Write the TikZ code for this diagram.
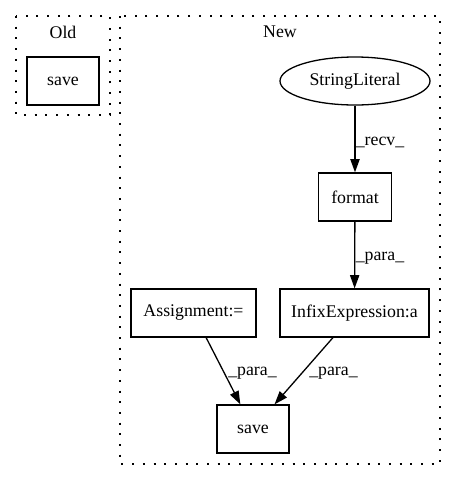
\documentclass[tikz,border=0pt]{standalone}
\usepackage{fontspec}
\setmainfont{Liberation Serif}
\usetikzlibrary{arrows.meta,shapes.geometric}
\begin{document}
\begin{tikzpicture}[x=1pt,y=-1pt,
  every node/.style={font=\fontsize{17.8}{20}\selectfont},
  cluster/.style={draw, line width=1.3pt, dash pattern=on 2pt off 8.7pt},
  box/.style={draw, line width=1.3pt, rectangle, minimum height=48pt, inner sep=0pt},
  ell/.style={draw, line width=1.3pt, ellipse, minimum width=150pt, minimum height=48pt, inner sep=0pt},
  lbl/.style={inner sep=0pt},
  edge/.style={line width=1.3pt, -{Triangle[length=13.3pt,width=9.3pt]}}]
\useasboundingbox (0,0) rectangle (456,480);
% clusters
\draw[cluster] (16,16) rectangle (110,115);
\node[lbl] (oldlbl) at (63,32) {Old};
\draw[cluster] (120,16) rectangle (440,464);
\node[lbl] (newlbl) at (280,32) {New};
% nodes
\node[box, minimum width=72pt] (oldsave) at (63,81) {save};
\node[ell] (str) at (355,81) {StringLiteral};
\node[box, minimum width=73pt] (fmt) at (355,197) {format};
\node[box, minimum width=149pt] (infix) at (354.5,313) {InfixExpression:a};
\node[box, minimum width=125pt] (asg) at (193.5,313) {Assignment:=};
\node[box, minimum width=72pt] (save) at (253,429) {save};
% edges
\draw[edge] (str) -- (fmt);
\draw[edge] (fmt) -- (infix);
\draw[edge] (asg) -- (save);
\draw[edge] (infix) -- (save);
% edge labels
\node[lbl] (l1) at (380,142) {\_recv\_};
\node[lbl] (l2) at (380,258) {\_para\_};
\node[lbl] (l3) at (252.5,373) {\_para\_};
\node[lbl] (l4) at (333.5,373) {\_para\_};
\end{tikzpicture}
\end{document}
